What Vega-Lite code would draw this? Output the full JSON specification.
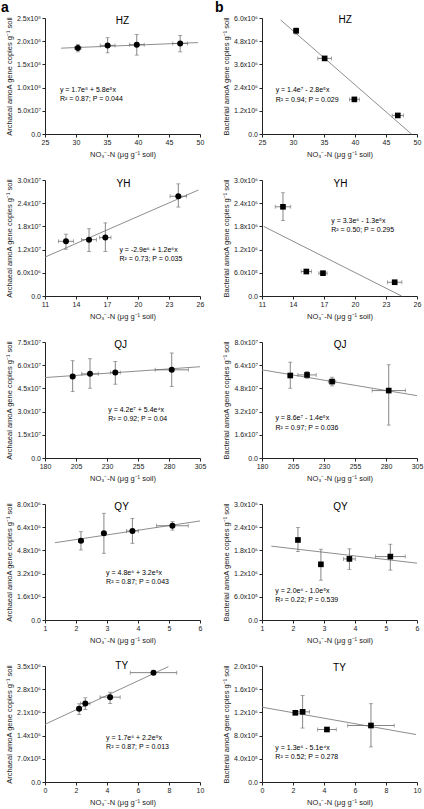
{
  "$schema": "https://vega.github.io/schema/vega-lite/v6.json",
  "padding": {"left": 1, "top": 1, "right": 2, "bottom": 2},
  "config": {
    "font": "Liberation Sans",
    "view": {"stroke": null},
    "axis": {"grid": false, "domainColor": "#222", "tickColor": "#222", "labelColor": "#222", "titleColor": "#222", "tickSize": 3, "labelFontSize": 7, "titleFontSize": 7.5, "titleFontWeight": "normal", "labelFont": "Liberation Sans", "titleFont": "Liberation Sans", "labelPadding": 1.5, "domainWidth": 1, "tickWidth": 1, "labelOverlap": false, "labelFlush": false, "tickCount": 10},
    "axisX": {"titlePadding": 5, "labelExpr": "format(datum.value, 'd')"},
    "axisY": {"titlePadding": 3, "labelExpr": "datum.value == 0 ? '0.0' : format(datum.value / pow(10, floor(log(datum.value) / LN10 + 0.000001)), '.1f') + 'x10' + ['⁰','¹','²','³','⁴','⁵','⁶','⁷','⁸','⁹'][floor(log(datum.value) / LN10 + 0.000001)]"}
  },
  "data": {"values": [
    {"p": "HZa", "k": "pt", "x": 30.3, "xlo": 29.8, "xhi": 30.8, "y": 185500000, "ylo": 177000000, "yhi": 193000000},
    {"p": "HZa", "k": "pt", "x": 35.1, "xlo": 33.9, "xhi": 36.3, "y": 191000000, "ylo": 175000000, "yhi": 207500000},
    {"p": "HZa", "k": "pt", "x": 39.8, "xlo": 38.6, "xhi": 41.0, "y": 192600000, "ylo": 170000000, "yhi": 214600000},
    {"p": "HZa", "k": "pt", "x": 46.8, "xlo": 45.6, "xhi": 48.0, "y": 195000000, "ylo": 177000000, "yhi": 212500000},
    {"p": "HZa", "k": "ln", "x": 27.6, "y": 185000000},
    {"p": "HZa", "k": "ln", "x": 49.7, "y": 197000000},
    {"p": "HZa", "k": "eq", "x": 27.4, "y": 95600000, "t": "y = 1.7e⁸ + 5.8e⁵x"},
    {"p": "HZa", "k": "eq", "x": 27.4, "y": 75800000, "t": "R² = 0.87; P = 0.044"},
    {"p": "HZa", "k": "tt", "x": 37.5, "y": 244000000, "t": "HZ"},

    {"p": "HZb", "k": "pt", "x": 30.5, "xlo": 30.1, "xhi": 30.9, "y": 5340000, "ylo": 5170000, "yhi": 5480000},
    {"p": "HZb", "k": "pt", "x": 35.1, "xlo": 34.0, "xhi": 36.2, "y": 3910000, "ylo": 3800000, "yhi": 4000000},
    {"p": "HZb", "k": "pt", "x": 39.9, "xlo": 39.1, "xhi": 40.7, "y": 1790000, "ylo": 1700000, "yhi": 1880000},
    {"p": "HZb", "k": "pt", "x": 46.9, "xlo": 46.0, "xhi": 47.8, "y": 960000, "ylo": 880000, "yhi": 1040000},
    {"p": "HZb", "k": "ln", "x": 28.0, "y": 5900000},
    {"p": "HZb", "k": "ln", "x": 49.1, "y": 0},
    {"p": "HZb", "k": "eq", "x": 27.2, "y": 2260000, "t": "y = 1.4e⁷ - 2.8e⁵x"},
    {"p": "HZb", "k": "eq", "x": 27.2, "y": 1770000, "t": "R² = 0.94; P = 0.029"},
    {"p": "HZb", "k": "tt", "x": 38.4, "y": 5880000, "t": "HZ"},

    {"p": "YHa", "k": "pt", "x": 13.03, "xlo": 12.3, "xhi": 13.75, "y": 14140000, "ylo": 12100000, "yhi": 16000000},
    {"p": "YHa", "k": "pt", "x": 15.26, "xlo": 14.54, "xhi": 15.98, "y": 14570000, "ylo": 11500000, "yhi": 17400000},
    {"p": "YHa", "k": "pt", "x": 16.84, "xlo": 16.29, "xhi": 17.39, "y": 15100000, "ylo": 11500000, "yhi": 18900000},
    {"p": "YHa", "k": "pt", "x": 23.9, "xlo": 23.1, "xhi": 24.7, "y": 25800000, "ylo": 23000000, "yhi": 29000000},
    {"p": "YHa", "k": "ln", "x": 11, "y": 10060000},
    {"p": "YHa", "k": "ln", "x": 25.84, "y": 27400000},
    {"p": "YHa", "k": "eq", "x": 18.2, "y": 12000000, "t": "y = -2.9e⁶ + 1.2e⁶x"},
    {"p": "YHa", "k": "eq", "x": 18.2, "y": 9540000, "t": "R² = 0.73; P = 0.035"},
    {"p": "YHa", "k": "tt", "x": 18.6, "y": 28900000, "t": "YH"},

    {"p": "YHb", "k": "pt", "x": 13.03, "xlo": 12.28, "xhi": 13.78, "y": 2307000, "ylo": 1950000, "yhi": 2670000},
    {"p": "YHb", "k": "pt", "x": 15.29, "xlo": 14.79, "xhi": 15.79, "y": 633000, "ylo": 580000, "yhi": 690000},
    {"p": "YHb", "k": "pt", "x": 16.9, "xlo": 16.5, "xhi": 17.3, "y": 590000, "ylo": 550000, "yhi": 630000},
    {"p": "YHb", "k": "pt", "x": 23.84, "xlo": 23.14, "xhi": 24.54, "y": 356000, "ylo": 310000, "yhi": 400000},
    {"p": "YHb", "k": "ln", "x": 11.16, "y": 1800000},
    {"p": "YHb", "k": "ln", "x": 24.5, "y": 0},
    {"p": "YHb", "k": "eq", "x": 17.7, "y": 1950000, "t": "y = 3.3e⁶ - 1.3e⁵x"},
    {"p": "YHb", "k": "eq", "x": 17.7, "y": 1700000, "t": "R² = 0.50; P = 0.295"},
    {"p": "YHb", "k": "tt", "x": 18.6, "y": 2890000, "t": "YH"},

    {"p": "QJa", "k": "pt", "x": 202.3, "xlo": 200.5, "xhi": 204.1, "y": 52700000, "ylo": 42900000, "yhi": 62900000},
    {"p": "QJa", "k": "pt", "x": 216.3, "xlo": 209.6, "xhi": 223.0, "y": 54400000, "ylo": 45100000, "yhi": 64200000},
    {"p": "QJa", "k": "pt", "x": 236.7, "xlo": 232.7, "xhi": 240.7, "y": 55300000, "ylo": 47700000, "yhi": 62400000},
    {"p": "QJa", "k": "pt", "x": 282.2, "xlo": 268.8, "xhi": 295.6, "y": 57000000, "ylo": 46200000, "yhi": 67900000},
    {"p": "QJa", "k": "ln", "x": 180, "y": 52000000},
    {"p": "QJa", "k": "ln", "x": 305, "y": 59000000},
    {"p": "QJa", "k": "eq", "x": 231, "y": 31000000, "t": "y = 4.2e⁷ + 5.4e⁴x"},
    {"p": "QJa", "k": "eq", "x": 231, "y": 24900000, "t": "R² = 0.92; P = 0.04"},
    {"p": "QJa", "k": "tt", "x": 241, "y": 73300000, "t": "QJ"},

    {"p": "QJb", "k": "pt", "x": 202.8, "xlo": 201.0, "xhi": 204.6, "y": 56900000, "ylo": 48100000, "yhi": 66100000},
    {"p": "QJb", "k": "pt", "x": 216.3, "xlo": 208.9, "xhi": 223.7, "y": 57300000, "ylo": 55000000, "yhi": 59700000},
    {"p": "QJb", "k": "pt", "x": 236.5, "xlo": 233.5, "xhi": 239.5, "y": 52700000, "ylo": 49700000, "yhi": 55700000},
    {"p": "QJb", "k": "pt", "x": 282.2, "xlo": 268.8, "xhi": 295.6, "y": 46500000, "ylo": 22700000, "yhi": 64300000},
    {"p": "QJb", "k": "ln", "x": 180, "y": 60800000},
    {"p": "QJb", "k": "ln", "x": 305, "y": 43000000},
    {"p": "QJb", "k": "eq", "x": 190.8, "y": 27300000, "t": "y = 8.6e⁷ - 1.4e⁵x"},
    {"p": "QJb", "k": "eq", "x": 190.8, "y": 20800000, "t": "R² = 0.97; P = 0.036"},
    {"p": "QJb", "k": "tt", "x": 243, "y": 78000000, "t": "QJ"},

    {"p": "QYa", "k": "pt", "x": 2.16, "xlo": 2.08, "xhi": 2.24, "y": 5470000, "ylo": 4830000, "yhi": 6090000},
    {"p": "QYa", "k": "pt", "x": 2.9, "xlo": 2.84, "xhi": 2.96, "y": 5980000, "ylo": 4600000, "yhi": 7360000},
    {"p": "QYa", "k": "pt", "x": 3.82, "xlo": 3.63, "xhi": 4.01, "y": 6140000, "ylo": 5290000, "yhi": 7010000},
    {"p": "QYa", "k": "pt", "x": 5.11, "xlo": 4.6, "xhi": 5.62, "y": 6500000, "ylo": 6200000, "yhi": 6780000},
    {"p": "QYa", "k": "ln", "x": 1.32, "y": 5330000},
    {"p": "QYa", "k": "ln", "x": 6, "y": 6830000},
    {"p": "QYa", "k": "eq", "x": 2.97, "y": 3220000, "t": "y = 4.8e⁶ + 3.2e⁵x"},
    {"p": "QYa", "k": "eq", "x": 2.97, "y": 2600000, "t": "R² = 0.87; P = 0.043"},
    {"p": "QYa", "k": "tt", "x": 3.47, "y": 7820000, "t": "QY"},

    {"p": "QYb", "k": "pt", "x": 2.16, "xlo": 2.1, "xhi": 2.22, "y": 2070000, "ylo": 1770000, "yhi": 2390000},
    {"p": "QYb", "k": "pt", "x": 2.9, "xlo": 2.85, "xhi": 2.95, "y": 1440000, "ylo": 1030000, "yhi": 1830000},
    {"p": "QYb", "k": "pt", "x": 3.82, "xlo": 3.63, "xhi": 4.01, "y": 1580000, "ylo": 1310000, "yhi": 1840000},
    {"p": "QYb", "k": "pt", "x": 5.14, "xlo": 4.66, "xhi": 5.62, "y": 1640000, "ylo": 1290000, "yhi": 1960000},
    {"p": "QYb", "k": "ln", "x": 1.3, "y": 1910000},
    {"p": "QYb", "k": "ln", "x": 6, "y": 1470000},
    {"p": "QYb", "k": "eq", "x": 1.43, "y": 750000, "t": "y = 2.0e⁶ - 1.0e⁵x"},
    {"p": "QYb", "k": "eq", "x": 1.43, "y": 520000, "t": "R² = 0.22; P = 0.539"},
    {"p": "QYb", "k": "tt", "x": 3.53, "y": 2930000, "t": "QY"},

    {"p": "TYa", "k": "pt", "x": 2.2, "xlo": 2.05, "xhi": 2.35, "y": 2210000, "ylo": 2040000, "yhi": 2360000},
    {"p": "TYa", "k": "pt", "x": 2.6, "xlo": 2.3, "xhi": 2.9, "y": 2370000, "ylo": 2190000, "yhi": 2540000},
    {"p": "TYa", "k": "pt", "x": 4.2, "xlo": 3.55, "xhi": 4.85, "y": 2560000, "ylo": 2370000, "yhi": 2710000},
    {"p": "TYa", "k": "pt", "x": 7.0, "xlo": 5.5, "xhi": 8.5, "y": 3300000, "ylo": 3250000, "yhi": 3350000},
    {"p": "TYa", "k": "ln", "x": 0, "y": 1740000},
    {"p": "TYa", "k": "ln", "x": 7.96, "y": 3480000},
    {"p": "TYa", "k": "eq", "x": 3.94, "y": 1330000, "t": "y = 1.7e⁶ + 2.2e⁵x"},
    {"p": "TYa", "k": "eq", "x": 3.94, "y": 1050000, "t": "R² = 0.87; P = 0.013"},
    {"p": "TYa", "k": "tt", "x": 4.95, "y": 3500000, "t": "TY"},

    {"p": "TYb", "k": "pt", "x": 2.15, "xlo": 2.05, "xhi": 2.25, "y": 1193000, "ylo": 1170000, "yhi": 1220000},
    {"p": "TYb", "k": "pt", "x": 2.62, "xlo": 2.17, "xhi": 3.07, "y": 1210000, "ylo": 930000, "yhi": 1490000},
    {"p": "TYb", "k": "pt", "x": 4.19, "xlo": 3.59, "xhi": 4.79, "y": 905000, "ylo": 880000, "yhi": 930000},
    {"p": "TYb", "k": "pt", "x": 7.03, "xlo": 5.53, "xhi": 8.53, "y": 974000, "ylo": 605000, "yhi": 1350000},
    {"p": "TYb", "k": "ln", "x": 0, "y": 1290000},
    {"p": "TYb", "k": "ln", "x": 9.94, "y": 818000},
    {"p": "TYb", "k": "eq", "x": 0.86, "y": 588000, "t": "y = 1.3e⁶ - 5.1e⁴x"},
    {"p": "TYb", "k": "eq", "x": 0.86, "y": 430000, "t": "R² = 0.52; P = 0.278"},
    {"p": "TYb", "k": "tt", "x": 5.0, "y": 1970000, "t": "TY"}
  ]},
  "columns": 2,
  "bounds": "flush",
  "spacing": {"row": 46, "column": 62},
  "concat": [
    {
      "width": 155, "height": 116,
      "title": {"text": "a", "anchor": "start", "frame": "group", "dx": -44, "offset": -1, "fontSize": 14, "fontWeight": "bold"},
      "transform": [{"filter": "datum.p == 'HZa'"}],
      "layer": [
        {"transform": [{"filter": "datum.k == 'ln'"}], "mark": {"type": "line", "color": "#808080", "strokeWidth": 0.9},
         "encoding": {
           "x": {"field": "x", "type": "quantitative", "scale": {"domain": [25, 50], "nice": false, "zero": false}, "axis": {"values": [25, 30, 35, 40, 45, 50], "labelOverlap": false, "tickCount": 10, "title": "NO₃⁻-N (μg g⁻¹ soil)"}},
           "y": {"field": "y", "type": "quantitative", "scale": {"domain": [0, 250000000], "nice": false}, "axis": {"values": [0, 50000000, 100000000, 150000000, 200000000, 250000000], "labelOverlap": false, "tickCount": 10, "title": "Archaeal amoA gene copies g⁻¹ soil"}}}},
        {"transform": [{"filter": "datum.k == 'pt'"}], "mark": {"type": "errorbar", "ticks": {"size": 4}, "color": "#666", "thickness": 0.8},
         "encoding": {"x": {"field": "x", "type": "quantitative"}, "y": {"field": "ylo", "type": "quantitative", "title": "Archaeal amoA gene copies g⁻¹ soil"}, "y2": {"field": "yhi"}}},
        {"transform": [{"filter": "datum.k == 'pt'"}], "mark": {"type": "errorbar", "ticks": {"size": 4}, "color": "#666", "thickness": 0.8},
         "encoding": {"y": {"field": "y", "type": "quantitative"}, "x": {"field": "xlo", "type": "quantitative", "title": "NO₃⁻-N (μg g⁻¹ soil)"}, "x2": {"field": "xhi"}}},
        {"transform": [{"filter": "datum.k == 'pt'"}], "mark": {"type": "point", "shape": "circle", "filled": true, "opacity": 1, "color": "#000", "size": 36},
         "encoding": {"x": {"field": "x", "type": "quantitative"}, "y": {"field": "y", "type": "quantitative"}}},
        {"transform": [{"filter": "datum.k == 'eq'"}], "mark": {"type": "text", "align": "left", "baseline": "middle", "fontSize": 7, "fill": "#000"},
         "encoding": {"x": {"field": "x", "type": "quantitative"}, "y": {"field": "y", "type": "quantitative"}, "text": {"field": "t"}}},
        {"transform": [{"filter": "datum.k == 'tt'"}], "mark": {"type": "text", "align": "center", "baseline": "middle", "fontSize": 10, "fill": "#000"},
         "encoding": {"x": {"field": "x", "type": "quantitative"}, "y": {"field": "y", "type": "quantitative"}, "text": {"field": "t"}}}
      ]
    },
    {
      "width": 155, "height": 116,
      "title": {"text": "b", "anchor": "start", "frame": "group", "dx": -47, "offset": -1, "fontSize": 14, "fontWeight": "bold"},
      "transform": [{"filter": "datum.p == 'HZb'"}],
      "layer": [
        {"transform": [{"filter": "datum.k == 'ln'"}], "mark": {"type": "line", "color": "#808080", "strokeWidth": 0.9},
         "encoding": {
           "x": {"field": "x", "type": "quantitative", "scale": {"domain": [25, 50], "nice": false, "zero": false}, "axis": {"values": [25, 30, 35, 40, 45, 50], "labelOverlap": false, "tickCount": 10, "title": "NO₃⁻-N (μg g⁻¹ soil)"}},
           "y": {"field": "y", "type": "quantitative", "scale": {"domain": [0, 6000000], "nice": false}, "axis": {"values": [0, 1200000, 2400000, 3600000, 4800000, 6000000], "labelOverlap": false, "tickCount": 10, "title": "Bacterial amoA gene copies g⁻¹ soil"}}}},
        {"transform": [{"filter": "datum.k == 'pt'"}], "mark": {"type": "errorbar", "ticks": {"size": 4}, "color": "#666", "thickness": 0.8},
         "encoding": {"x": {"field": "x", "type": "quantitative"}, "y": {"field": "ylo", "type": "quantitative", "title": "Bacterial amoA gene copies g⁻¹ soil"}, "y2": {"field": "yhi"}}},
        {"transform": [{"filter": "datum.k == 'pt'"}], "mark": {"type": "errorbar", "ticks": {"size": 4}, "color": "#666", "thickness": 0.8},
         "encoding": {"y": {"field": "y", "type": "quantitative"}, "x": {"field": "xlo", "type": "quantitative", "title": "NO₃⁻-N (μg g⁻¹ soil)"}, "x2": {"field": "xhi"}}},
        {"transform": [{"filter": "datum.k == 'pt'"}], "mark": {"type": "point", "shape": "square", "filled": true, "opacity": 1, "color": "#000", "size": 32},
         "encoding": {"x": {"field": "x", "type": "quantitative"}, "y": {"field": "y", "type": "quantitative"}}},
        {"transform": [{"filter": "datum.k == 'eq'"}], "mark": {"type": "text", "align": "left", "baseline": "middle", "fontSize": 7, "fill": "#000"},
         "encoding": {"x": {"field": "x", "type": "quantitative"}, "y": {"field": "y", "type": "quantitative"}, "text": {"field": "t"}}},
        {"transform": [{"filter": "datum.k == 'tt'"}], "mark": {"type": "text", "align": "center", "baseline": "middle", "fontSize": 10, "fill": "#000"},
         "encoding": {"x": {"field": "x", "type": "quantitative"}, "y": {"field": "y", "type": "quantitative"}, "text": {"field": "t"}}}
      ]
    },
    {
      "width": 155, "height": 116,
      "transform": [{"filter": "datum.p == 'YHa'"}],
      "layer": [
        {"transform": [{"filter": "datum.k == 'ln'"}], "mark": {"type": "line", "color": "#808080", "strokeWidth": 0.9},
         "encoding": {
           "x": {"field": "x", "type": "quantitative", "scale": {"domain": [11, 26], "nice": false, "zero": false}, "axis": {"values": [11, 14, 17, 20, 23, 26], "labelOverlap": false, "tickCount": 10, "title": "NO₃⁻-N (μg g⁻¹ soil)"}},
           "y": {"field": "y", "type": "quantitative", "scale": {"domain": [0, 30000000], "nice": false}, "axis": {"values": [0, 6000000, 12000000, 18000000, 24000000, 30000000], "labelOverlap": false, "tickCount": 10, "title": "Archaeal amoA gene copies g⁻¹ soil"}}}},
        {"transform": [{"filter": "datum.k == 'pt'"}], "mark": {"type": "errorbar", "ticks": {"size": 4}, "color": "#666", "thickness": 0.8},
         "encoding": {"x": {"field": "x", "type": "quantitative"}, "y": {"field": "ylo", "type": "quantitative", "title": "Archaeal amoA gene copies g⁻¹ soil"}, "y2": {"field": "yhi"}}},
        {"transform": [{"filter": "datum.k == 'pt'"}], "mark": {"type": "errorbar", "ticks": {"size": 4}, "color": "#666", "thickness": 0.8},
         "encoding": {"y": {"field": "y", "type": "quantitative"}, "x": {"field": "xlo", "type": "quantitative", "title": "NO₃⁻-N (μg g⁻¹ soil)"}, "x2": {"field": "xhi"}}},
        {"transform": [{"filter": "datum.k == 'pt'"}], "mark": {"type": "point", "shape": "circle", "filled": true, "opacity": 1, "color": "#000", "size": 36},
         "encoding": {"x": {"field": "x", "type": "quantitative"}, "y": {"field": "y", "type": "quantitative"}}},
        {"transform": [{"filter": "datum.k == 'eq'"}], "mark": {"type": "text", "align": "left", "baseline": "middle", "fontSize": 7, "fill": "#000"},
         "encoding": {"x": {"field": "x", "type": "quantitative"}, "y": {"field": "y", "type": "quantitative"}, "text": {"field": "t"}}},
        {"transform": [{"filter": "datum.k == 'tt'"}], "mark": {"type": "text", "align": "center", "baseline": "middle", "fontSize": 10, "fill": "#000"},
         "encoding": {"x": {"field": "x", "type": "quantitative"}, "y": {"field": "y", "type": "quantitative"}, "text": {"field": "t"}}}
      ]
    },
    {
      "width": 155, "height": 116,
      "transform": [{"filter": "datum.p == 'YHb'"}],
      "layer": [
        {"transform": [{"filter": "datum.k == 'ln'"}], "mark": {"type": "line", "color": "#808080", "strokeWidth": 0.9},
         "encoding": {
           "x": {"field": "x", "type": "quantitative", "scale": {"domain": [11, 26], "nice": false, "zero": false}, "axis": {"values": [11, 14, 17, 20, 23, 26], "labelOverlap": false, "tickCount": 10, "title": "NO₃⁻-N (μg g⁻¹ soil)"}},
           "y": {"field": "y", "type": "quantitative", "scale": {"domain": [0, 3000000], "nice": false}, "axis": {"values": [0, 600000, 1200000, 1800000, 2400000, 3000000], "labelOverlap": false, "tickCount": 10, "title": "Bacterial amoA gene copies g⁻¹ soil"}}}},
        {"transform": [{"filter": "datum.k == 'pt'"}], "mark": {"type": "errorbar", "ticks": {"size": 4}, "color": "#666", "thickness": 0.8},
         "encoding": {"x": {"field": "x", "type": "quantitative"}, "y": {"field": "ylo", "type": "quantitative", "title": "Bacterial amoA gene copies g⁻¹ soil"}, "y2": {"field": "yhi"}}},
        {"transform": [{"filter": "datum.k == 'pt'"}], "mark": {"type": "errorbar", "ticks": {"size": 4}, "color": "#666", "thickness": 0.8},
         "encoding": {"y": {"field": "y", "type": "quantitative"}, "x": {"field": "xlo", "type": "quantitative", "title": "NO₃⁻-N (μg g⁻¹ soil)"}, "x2": {"field": "xhi"}}},
        {"transform": [{"filter": "datum.k == 'pt'"}], "mark": {"type": "point", "shape": "square", "filled": true, "opacity": 1, "color": "#000", "size": 32},
         "encoding": {"x": {"field": "x", "type": "quantitative"}, "y": {"field": "y", "type": "quantitative"}}},
        {"transform": [{"filter": "datum.k == 'eq'"}], "mark": {"type": "text", "align": "left", "baseline": "middle", "fontSize": 7, "fill": "#000"},
         "encoding": {"x": {"field": "x", "type": "quantitative"}, "y": {"field": "y", "type": "quantitative"}, "text": {"field": "t"}}},
        {"transform": [{"filter": "datum.k == 'tt'"}], "mark": {"type": "text", "align": "center", "baseline": "middle", "fontSize": 10, "fill": "#000"},
         "encoding": {"x": {"field": "x", "type": "quantitative"}, "y": {"field": "y", "type": "quantitative"}, "text": {"field": "t"}}}
      ]
    },
    {
      "width": 155, "height": 116,
      "transform": [{"filter": "datum.p == 'QJa'"}],
      "layer": [
        {"transform": [{"filter": "datum.k == 'ln'"}], "mark": {"type": "line", "color": "#808080", "strokeWidth": 0.9},
         "encoding": {
           "x": {"field": "x", "type": "quantitative", "scale": {"domain": [180, 305], "nice": false, "zero": false}, "axis": {"values": [180, 205, 230, 255, 280, 305], "labelOverlap": false, "tickCount": 10, "title": "NO₃⁻-N (μg g⁻¹ soil)"}},
           "y": {"field": "y", "type": "quantitative", "scale": {"domain": [0, 75000000], "nice": false}, "axis": {"values": [0, 15000000, 30000000, 45000000, 60000000, 75000000], "labelOverlap": false, "tickCount": 10, "title": "Archaeal amoA gene copies g⁻¹ soil"}}}},
        {"transform": [{"filter": "datum.k == 'pt'"}], "mark": {"type": "errorbar", "ticks": {"size": 4}, "color": "#666", "thickness": 0.8},
         "encoding": {"x": {"field": "x", "type": "quantitative"}, "y": {"field": "ylo", "type": "quantitative", "title": "Archaeal amoA gene copies g⁻¹ soil"}, "y2": {"field": "yhi"}}},
        {"transform": [{"filter": "datum.k == 'pt'"}], "mark": {"type": "errorbar", "ticks": {"size": 4}, "color": "#666", "thickness": 0.8},
         "encoding": {"y": {"field": "y", "type": "quantitative"}, "x": {"field": "xlo", "type": "quantitative", "title": "NO₃⁻-N (μg g⁻¹ soil)"}, "x2": {"field": "xhi"}}},
        {"transform": [{"filter": "datum.k == 'pt'"}], "mark": {"type": "point", "shape": "circle", "filled": true, "opacity": 1, "color": "#000", "size": 36},
         "encoding": {"x": {"field": "x", "type": "quantitative"}, "y": {"field": "y", "type": "quantitative"}}},
        {"transform": [{"filter": "datum.k == 'eq'"}], "mark": {"type": "text", "align": "left", "baseline": "middle", "fontSize": 7, "fill": "#000"},
         "encoding": {"x": {"field": "x", "type": "quantitative"}, "y": {"field": "y", "type": "quantitative"}, "text": {"field": "t"}}},
        {"transform": [{"filter": "datum.k == 'tt'"}], "mark": {"type": "text", "align": "center", "baseline": "middle", "fontSize": 10, "fill": "#000"},
         "encoding": {"x": {"field": "x", "type": "quantitative"}, "y": {"field": "y", "type": "quantitative"}, "text": {"field": "t"}}}
      ]
    },
    {
      "width": 155, "height": 116,
      "transform": [{"filter": "datum.p == 'QJb'"}],
      "layer": [
        {"transform": [{"filter": "datum.k == 'ln'"}], "mark": {"type": "line", "color": "#808080", "strokeWidth": 0.9},
         "encoding": {
           "x": {"field": "x", "type": "quantitative", "scale": {"domain": [180, 305], "nice": false, "zero": false}, "axis": {"values": [180, 205, 230, 255, 280, 305], "labelOverlap": false, "tickCount": 10, "title": "NO₃⁻-N (μg g⁻¹ soil)"}},
           "y": {"field": "y", "type": "quantitative", "scale": {"domain": [0, 80000000], "nice": false}, "axis": {"values": [0, 16000000, 32000000, 48000000, 64000000, 80000000], "labelOverlap": false, "tickCount": 10, "title": "Bacterial amoA gene copies g⁻¹ soil"}}}},
        {"transform": [{"filter": "datum.k == 'pt'"}], "mark": {"type": "errorbar", "ticks": {"size": 4}, "color": "#666", "thickness": 0.8},
         "encoding": {"x": {"field": "x", "type": "quantitative"}, "y": {"field": "ylo", "type": "quantitative", "title": "Bacterial amoA gene copies g⁻¹ soil"}, "y2": {"field": "yhi"}}},
        {"transform": [{"filter": "datum.k == 'pt'"}], "mark": {"type": "errorbar", "ticks": {"size": 4}, "color": "#666", "thickness": 0.8},
         "encoding": {"y": {"field": "y", "type": "quantitative"}, "x": {"field": "xlo", "type": "quantitative", "title": "NO₃⁻-N (μg g⁻¹ soil)"}, "x2": {"field": "xhi"}}},
        {"transform": [{"filter": "datum.k == 'pt'"}], "mark": {"type": "point", "shape": "square", "filled": true, "opacity": 1, "color": "#000", "size": 32},
         "encoding": {"x": {"field": "x", "type": "quantitative"}, "y": {"field": "y", "type": "quantitative"}}},
        {"transform": [{"filter": "datum.k == 'eq'"}], "mark": {"type": "text", "align": "left", "baseline": "middle", "fontSize": 7, "fill": "#000"},
         "encoding": {"x": {"field": "x", "type": "quantitative"}, "y": {"field": "y", "type": "quantitative"}, "text": {"field": "t"}}},
        {"transform": [{"filter": "datum.k == 'tt'"}], "mark": {"type": "text", "align": "center", "baseline": "middle", "fontSize": 10, "fill": "#000"},
         "encoding": {"x": {"field": "x", "type": "quantitative"}, "y": {"field": "y", "type": "quantitative"}, "text": {"field": "t"}}}
      ]
    },
    {
      "width": 155, "height": 116,
      "transform": [{"filter": "datum.p == 'QYa'"}],
      "layer": [
        {"transform": [{"filter": "datum.k == 'ln'"}], "mark": {"type": "line", "color": "#808080", "strokeWidth": 0.9},
         "encoding": {
           "x": {"field": "x", "type": "quantitative", "scale": {"domain": [1, 6], "nice": false, "zero": false}, "axis": {"values": [1, 2, 3, 4, 5, 6], "labelOverlap": false, "tickCount": 10, "title": "NO₃⁻-N (μg g⁻¹ soil)"}},
           "y": {"field": "y", "type": "quantitative", "scale": {"domain": [0, 8000000], "nice": false}, "axis": {"values": [0, 1600000, 3200000, 4800000, 6400000, 8000000], "labelOverlap": false, "tickCount": 10, "title": "Archaeal amoA gene copies g⁻¹ soil"}}}},
        {"transform": [{"filter": "datum.k == 'pt'"}], "mark": {"type": "errorbar", "ticks": {"size": 4}, "color": "#666", "thickness": 0.8},
         "encoding": {"x": {"field": "x", "type": "quantitative"}, "y": {"field": "ylo", "type": "quantitative", "title": "Archaeal amoA gene copies g⁻¹ soil"}, "y2": {"field": "yhi"}}},
        {"transform": [{"filter": "datum.k == 'pt'"}], "mark": {"type": "errorbar", "ticks": {"size": 4}, "color": "#666", "thickness": 0.8},
         "encoding": {"y": {"field": "y", "type": "quantitative"}, "x": {"field": "xlo", "type": "quantitative", "title": "NO₃⁻-N (μg g⁻¹ soil)"}, "x2": {"field": "xhi"}}},
        {"transform": [{"filter": "datum.k == 'pt'"}], "mark": {"type": "point", "shape": "circle", "filled": true, "opacity": 1, "color": "#000", "size": 36},
         "encoding": {"x": {"field": "x", "type": "quantitative"}, "y": {"field": "y", "type": "quantitative"}}},
        {"transform": [{"filter": "datum.k == 'eq'"}], "mark": {"type": "text", "align": "left", "baseline": "middle", "fontSize": 7, "fill": "#000"},
         "encoding": {"x": {"field": "x", "type": "quantitative"}, "y": {"field": "y", "type": "quantitative"}, "text": {"field": "t"}}},
        {"transform": [{"filter": "datum.k == 'tt'"}], "mark": {"type": "text", "align": "center", "baseline": "middle", "fontSize": 10, "fill": "#000"},
         "encoding": {"x": {"field": "x", "type": "quantitative"}, "y": {"field": "y", "type": "quantitative"}, "text": {"field": "t"}}}
      ]
    },
    {
      "width": 155, "height": 116,
      "transform": [{"filter": "datum.p == 'QYb'"}],
      "layer": [
        {"transform": [{"filter": "datum.k == 'ln'"}], "mark": {"type": "line", "color": "#808080", "strokeWidth": 0.9},
         "encoding": {
           "x": {"field": "x", "type": "quantitative", "scale": {"domain": [1, 6], "nice": false, "zero": false}, "axis": {"values": [1, 2, 3, 4, 5, 6], "labelOverlap": false, "tickCount": 10, "title": "NO₃⁻-N (μg g⁻¹ soil)"}},
           "y": {"field": "y", "type": "quantitative", "scale": {"domain": [0, 3000000], "nice": false}, "axis": {"values": [0, 600000, 1200000, 1800000, 2400000, 3000000], "labelOverlap": false, "tickCount": 10, "title": "Bacterial amoA gene copies g⁻¹ soil"}}}},
        {"transform": [{"filter": "datum.k == 'pt'"}], "mark": {"type": "errorbar", "ticks": {"size": 4}, "color": "#666", "thickness": 0.8},
         "encoding": {"x": {"field": "x", "type": "quantitative"}, "y": {"field": "ylo", "type": "quantitative", "title": "Bacterial amoA gene copies g⁻¹ soil"}, "y2": {"field": "yhi"}}},
        {"transform": [{"filter": "datum.k == 'pt'"}], "mark": {"type": "errorbar", "ticks": {"size": 4}, "color": "#666", "thickness": 0.8},
         "encoding": {"y": {"field": "y", "type": "quantitative"}, "x": {"field": "xlo", "type": "quantitative", "title": "NO₃⁻-N (μg g⁻¹ soil)"}, "x2": {"field": "xhi"}}},
        {"transform": [{"filter": "datum.k == 'pt'"}], "mark": {"type": "point", "shape": "square", "filled": true, "opacity": 1, "color": "#000", "size": 32},
         "encoding": {"x": {"field": "x", "type": "quantitative"}, "y": {"field": "y", "type": "quantitative"}}},
        {"transform": [{"filter": "datum.k == 'eq'"}], "mark": {"type": "text", "align": "left", "baseline": "middle", "fontSize": 7, "fill": "#000"},
         "encoding": {"x": {"field": "x", "type": "quantitative"}, "y": {"field": "y", "type": "quantitative"}, "text": {"field": "t"}}},
        {"transform": [{"filter": "datum.k == 'tt'"}], "mark": {"type": "text", "align": "center", "baseline": "middle", "fontSize": 10, "fill": "#000"},
         "encoding": {"x": {"field": "x", "type": "quantitative"}, "y": {"field": "y", "type": "quantitative"}, "text": {"field": "t"}}}
      ]
    },
    {
      "width": 155, "height": 116,
      "transform": [{"filter": "datum.p == 'TYa'"}],
      "layer": [
        {"transform": [{"filter": "datum.k == 'ln'"}], "mark": {"type": "line", "color": "#808080", "strokeWidth": 0.9},
         "encoding": {
           "x": {"field": "x", "type": "quantitative", "scale": {"domain": [0, 10], "nice": false, "zero": false}, "axis": {"values": [0, 2, 4, 6, 8, 10], "labelOverlap": false, "tickCount": 10, "title": "NO₃⁻-N (μg g⁻¹ soil)"}},
           "y": {"field": "y", "type": "quantitative", "scale": {"domain": [0, 3500000], "nice": false}, "axis": {"values": [0, 700000, 1400000, 2100000, 2800000, 3500000], "labelOverlap": false, "tickCount": 10, "title": "Archaeal amoA gene copies g⁻¹ soil"}}}},
        {"transform": [{"filter": "datum.k == 'pt'"}], "mark": {"type": "errorbar", "ticks": {"size": 4}, "color": "#666", "thickness": 0.8},
         "encoding": {"x": {"field": "x", "type": "quantitative"}, "y": {"field": "ylo", "type": "quantitative", "title": "Archaeal amoA gene copies g⁻¹ soil"}, "y2": {"field": "yhi"}}},
        {"transform": [{"filter": "datum.k == 'pt'"}], "mark": {"type": "errorbar", "ticks": {"size": 4}, "color": "#666", "thickness": 0.8},
         "encoding": {"y": {"field": "y", "type": "quantitative"}, "x": {"field": "xlo", "type": "quantitative", "title": "NO₃⁻-N (μg g⁻¹ soil)"}, "x2": {"field": "xhi"}}},
        {"transform": [{"filter": "datum.k == 'pt'"}], "mark": {"type": "point", "shape": "circle", "filled": true, "opacity": 1, "color": "#000", "size": 36},
         "encoding": {"x": {"field": "x", "type": "quantitative"}, "y": {"field": "y", "type": "quantitative"}}},
        {"transform": [{"filter": "datum.k == 'eq'"}], "mark": {"type": "text", "align": "left", "baseline": "middle", "fontSize": 7, "fill": "#000"},
         "encoding": {"x": {"field": "x", "type": "quantitative"}, "y": {"field": "y", "type": "quantitative"}, "text": {"field": "t"}}},
        {"transform": [{"filter": "datum.k == 'tt'"}], "mark": {"type": "text", "align": "center", "baseline": "middle", "fontSize": 10, "fill": "#000"},
         "encoding": {"x": {"field": "x", "type": "quantitative"}, "y": {"field": "y", "type": "quantitative"}, "text": {"field": "t"}}}
      ]
    },
    {
      "width": 155, "height": 116,
      "transform": [{"filter": "datum.p == 'TYb'"}],
      "layer": [
        {"transform": [{"filter": "datum.k == 'ln'"}], "mark": {"type": "line", "color": "#808080", "strokeWidth": 0.9},
         "encoding": {
           "x": {"field": "x", "type": "quantitative", "scale": {"domain": [0, 10], "nice": false, "zero": false}, "axis": {"values": [0, 2, 4, 6, 8, 10], "labelOverlap": false, "tickCount": 10, "title": "NO₃⁻-N (μg g⁻¹ soil)"}},
           "y": {"field": "y", "type": "quantitative", "scale": {"domain": [0, 2000000], "nice": false}, "axis": {"values": [0, 400000, 800000, 1200000, 1600000, 2000000], "labelOverlap": false, "tickCount": 10, "title": "Bacterial amoA gene copies g⁻¹ soil"}}}},
        {"transform": [{"filter": "datum.k == 'pt'"}], "mark": {"type": "errorbar", "ticks": {"size": 4}, "color": "#666", "thickness": 0.8},
         "encoding": {"x": {"field": "x", "type": "quantitative"}, "y": {"field": "ylo", "type": "quantitative", "title": "Bacterial amoA gene copies g⁻¹ soil"}, "y2": {"field": "yhi"}}},
        {"transform": [{"filter": "datum.k == 'pt'"}], "mark": {"type": "errorbar", "ticks": {"size": 4}, "color": "#666", "thickness": 0.8},
         "encoding": {"y": {"field": "y", "type": "quantitative"}, "x": {"field": "xlo", "type": "quantitative", "title": "NO₃⁻-N (μg g⁻¹ soil)"}, "x2": {"field": "xhi"}}},
        {"transform": [{"filter": "datum.k == 'pt'"}], "mark": {"type": "point", "shape": "square", "filled": true, "opacity": 1, "color": "#000", "size": 32},
         "encoding": {"x": {"field": "x", "type": "quantitative"}, "y": {"field": "y", "type": "quantitative"}}},
        {"transform": [{"filter": "datum.k == 'eq'"}], "mark": {"type": "text", "align": "left", "baseline": "middle", "fontSize": 7, "fill": "#000"},
         "encoding": {"x": {"field": "x", "type": "quantitative"}, "y": {"field": "y", "type": "quantitative"}, "text": {"field": "t"}}},
        {"transform": [{"filter": "datum.k == 'tt'"}], "mark": {"type": "text", "align": "center", "baseline": "middle", "fontSize": 10, "fill": "#000"},
         "encoding": {"x": {"field": "x", "type": "quantitative"}, "y": {"field": "y", "type": "quantitative"}, "text": {"field": "t"}}}
      ]
    }
  ]
}
